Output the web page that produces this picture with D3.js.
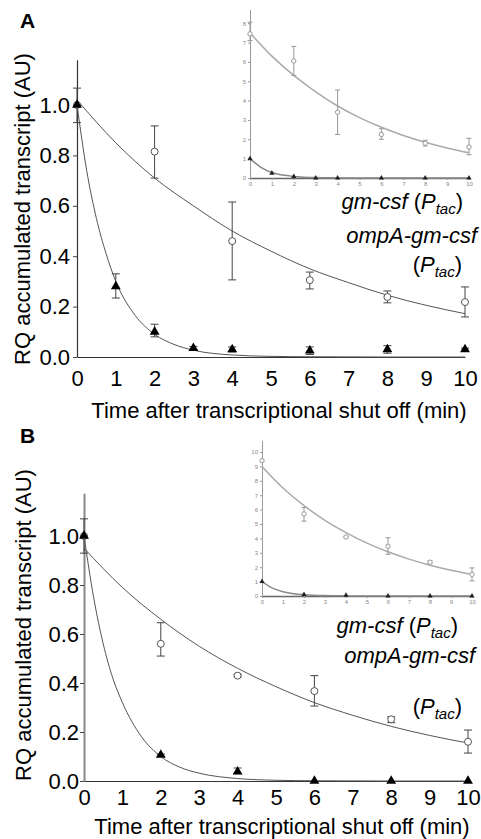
<!DOCTYPE html>
<html><head><meta charset="utf-8">
<script src="https://cdn.jsdelivr.net/npm/d3@7"></script>
<style>
body{margin:0;background:#fff}
svg{display:block}
text{font-family:"Liberation Sans",Arial,Helvetica,sans-serif}
</style>
</head><body>
<svg id="chart" width="481" height="839"></svg>
<script>
// ---------- shared ----------
const xTicks = [0,1,2,3,4,5,6,7,8,9,10];
const yTicksMain = [0,0.2,0.4,0.6,0.8,1.0];
const xTitle = "Time after transcriptional shut off (min)";
const yTitle = "RQ accumulated transcript (AU)";

// ---------- Panel A, main ----------
const aCircT  = [0,2,4,6,8,10];
const aCircY  = [1.0,0.815,0.46,0.305,0.238,0.218];
const aCircLo = [0.93,0.71,0.306,0.27,0.215,0.159];
const aCircHi = [1.067,0.917,0.615,0.337,0.262,0.278];
const aTriT   = [0,1,2,3,4,6,8,10];
const aTriY   = [1.0,0.28,0.10,0.035,0.03,0.025,0.03,0.03];
const aTriLo  = [1.0,0.234,0.08,0.03,0.02,0.01,0.015,0.025];
const aTriHi  = [1.0,0.33,0.13,0.042,0.04,0.04,0.045,0.035];
const aFitCircT = [0,1,2,3,4,5,6,7,8,9,10];
const aFitCircY = [1.02,0.85,0.71,0.60,0.50,0.42,0.35,0.295,0.245,0.205,0.172];
const aFitTriT  = [0,0.25,0.5,0.75,1,1.5,2,2.5,3,4,5,6,8,10];
const aFitTriY  = [1.0,0.74,0.55,0.41,0.30,0.165,0.09,0.05,0.027,0.008,0.0025,0.001,0,0];

// ---------- Panel A, inset ----------
const aInYTicks = [0,1,2,3,4,5,6,7,8];
const aInCircT  = [0,2,4,6,8,10];
const aInCircY  = [7.45,6.05,3.4,2.25,1.8,1.6];
const aInCircLo = [7.1,5.3,2.25,2.0,1.65,1.2];
const aInCircHi = [8.05,6.8,4.55,2.55,1.95,2.05];
const aInTriT   = [0,1,2,3,4,6,8,10];
const aInTriY   = [1.0,0.25,0.08,0,0,0,0,0];
const aInFitCircT = [0,1,2,3,4,5,6,7,8,9,10];
const aInFitCircY = [7.5,6.3,5.3,4.45,3.72,3.12,2.62,2.2,1.85,1.55,1.3];
const aInFitTriT  = [0,0.5,1,1.5,2,3,4,5,10];
const aInFitTriY  = [1.0,0.55,0.28,0.15,0.08,0.02,0.005,0,0];

// ---------- Panel B, main ----------
const bCircT  = [0,2,4,6,8,10];
const bCircY  = [1.0,0.56,0.43,0.367,0.252,0.16];
const bCircLo = [0.93,0.51,0.425,0.306,0.238,0.114];
const bCircHi = [1.07,0.646,0.435,0.43,0.262,0.208];
const bTriT   = [0,2,4,6,8,10];
const bTriY   = [1.0,0.106,0.038,0.0,0.0,0.0];
const bTriLo  = [1.0,0.10,0.03,0.0,0.0,0.0];
const bTriHi  = [1.0,0.11,0.053,0.0,0.0,0.0];
const bFitCircT = [0,1,2,3,4,5,6,7,8,9,10];
const bFitCircY = [0.95,0.79,0.66,0.55,0.46,0.385,0.32,0.268,0.223,0.186,0.155];
const bFitTriT  = [0,0.25,0.5,0.75,1,1.5,2,2.5,3,4,5,6,8,10];
const bFitTriY  = [1.0,0.75,0.56,0.42,0.32,0.18,0.10,0.056,0.032,0.01,0.003,0.001,0,0];

// ---------- Panel B, inset ----------
const bInYTicks = [0,1,2,3,4,5,6,7,8,9,10];
const bInCircT  = [0,2,4,6,8,10];
const bInCircY  = [9.4,5.7,4.1,3.45,2.35,1.5];
const bInCircLo = [9.4,5.2,4.05,2.9,2.25,1.05];
const bInCircHi = [9.4,6.15,4.15,4.05,2.45,1.95];
const bInTriT   = [0,2,4,6,8,10];
const bInTriY   = [1.0,0.1,0.05,0,0,0];
const bInFitCircT = [0,1,2,3,4,5,6,7,8,9,10];
const bInFitCircY = [9.0,7.5,6.28,5.25,4.4,3.67,3.07,2.56,2.14,1.79,1.5];
const bInFitTriT  = [0,0.5,1,1.5,2,3,4,5,10];
const bInFitTriY  = [1.0,0.55,0.3,0.16,0.09,0.027,0.008,0,0];

// ---------- legend text ----------
const legGm = "gm-csf";
const legOmp = "ompA-gm-csf";

const svg = d3.select("#chart");

function zip(t, y, lo, hi){ return t.map((d,i)=>({t:d,y:y[i],lo:lo?lo[i]:y[i],hi:hi?hi[i]:y[i]})); }

function drawMain(o){
  const g = svg.append("g");
  const x = d3.scaleLinear().domain([0,10]).range(o.xr);
  const y = d3.scaleLinear().domain([0,o.yTop]).range([o.y0, o.y0 - (o.y0-o.y1)*o.yTop]);
  const ya = g.append("g").attr("transform",`translate(${o.xr[0]},0)`)
    .call(d3.axisLeft(y).tickValues(yTicksMain).tickFormat(d3.format(".1f")).tickSize(4).tickSizeOuter(0).tickPadding(o.yPad));
  ya.select(".domain").attr("stroke",o.yAxisColor).attr("stroke-width",o.yAxisW);
  ya.selectAll(".tick line").attr("stroke","#444");
  ya.selectAll("text").attr("font-size",22).attr("fill","#000").attr("font-family","Liberation Sans, Arial, sans-serif");
  const xa = g.append("g").attr("transform",`translate(0,${o.y0})`)
    .call(d3.axisBottom(x).tickValues(xTicks).tickSize(0).tickSizeOuter(0).tickPadding(o.xPad));
  xa.select(".domain").attr("stroke","#333").attr("stroke-width",1.2);
  xa.selectAll("text").attr("font-size",22).attr("fill","#000").attr("font-family","Liberation Sans, Arial, sans-serif");
  g.append("text").attr("x",o.xTitleX).attr("y",o.xTitleY).attr("text-anchor","middle")
    .attr("font-size",22).text(xTitle);
  g.append("text").attr("transform",`translate(${o.yTitleX},${o.yTitleY}) rotate(-90)`)
    .attr("text-anchor","middle").attr("dominant-baseline","central").attr("font-size",22).text(yTitle);
  g.append("text").attr("x",o.lblX).attr("y",o.lblY).attr("font-size",21).attr("font-weight","bold").text(o.label);
  const line = d3.line().x(d=>x(d[0])).y(d=>y(d[1])).curve(d3.curveMonotoneX);
  g.append("path").attr("d",line(o.fitCircT.map((t,i)=>[t,o.fitCircY[i]]))).attr("fill","none").attr("stroke","#555").attr("stroke-width",1);
  g.append("path").attr("d",line(o.fitTriT.map((t,i)=>[t,o.fitTriY[i]]))).attr("fill","none").attr("stroke","#555").attr("stroke-width",1);
  function errs(data){
    const e = g.append("g").attr("stroke","#444").attr("stroke-width",1);
    data.filter(d=>d.hi>d.lo).forEach(d=>{
      e.append("line").attr("x1",x(d.t)).attr("x2",x(d.t)).attr("y1",y(d.lo)).attr("y2",y(d.hi));
      e.append("line").attr("x1",x(d.t)-4).attr("x2",x(d.t)+4).attr("y1",y(d.lo)).attr("y2",y(d.lo));
      e.append("line").attr("x1",x(d.t)-4).attr("x2",x(d.t)+4).attr("y1",y(d.hi)).attr("y2",y(d.hi));
    });
  }
  const circ = zip(o.circT,o.circY,o.circLo,o.circHi);
  const tri = zip(o.triT,o.triY,o.triLo,o.triHi);
  errs(circ); errs(tri);
  g.append("g").selectAll("circle").data(circ).join("circle")
    .attr("cx",d=>x(d.t)).attr("cy",d=>y(d.y)).attr("r",3.5)
    .attr("fill","#fff").attr("stroke","#555").attr("stroke-width",1);
  g.append("g").selectAll("path").data(tri).join("path")
    .attr("transform",d=>`translate(${x(d.t)},${y(d.y)})`)
    .attr("d",d3.symbol(d3.symbolTriangle,42)).attr("fill","#000");
  return {x,y};
}

function drawInset(o){
  const g = svg.append("g");
  const x = d3.scaleLinear().domain([0,10]).range(o.xr);
  const y = d3.scaleLinear().domain([0,o.yTop]).range([o.y0, o.y0 - o.yUnit*o.yTop]);
  const col = "#9a9a9a";
  const ya = g.append("g").attr("transform",`translate(${o.xr[0]},0)`)
    .call(d3.axisLeft(y).tickValues(o.yTicks).tickSize(2).tickSizeOuter(0).tickPadding(2));
  ya.select(".domain").attr("stroke",col).attr("stroke-width",1);
  ya.selectAll(".tick line").attr("stroke",col);
  ya.selectAll("text").attr("font-size",6).attr("fill","#888");
  const xa = g.append("g").attr("transform",`translate(0,${o.y0})`)
    .call(d3.axisBottom(x).tickValues(xTicks).tickSize(2).tickSizeOuter(0).tickPadding(2));
  xa.select(".domain").attr("stroke","#666").attr("stroke-width",1.5);
  xa.selectAll(".tick line").attr("stroke",col);
  xa.selectAll("text").attr("font-size",6).attr("fill","#888");
  const line = d3.line().x(d=>x(d[0])).y(d=>y(d[1])).curve(d3.curveMonotoneX);
  g.append("path").attr("d",line(o.fitCircT.map((t,i)=>[t,o.fitCircY[i]]))).attr("fill","none").attr("stroke","#aaa").attr("stroke-width",1.5);
  g.append("path").attr("d",line(o.fitTriT.map((t,i)=>[t,o.fitTriY[i]]))).attr("fill","none").attr("stroke","#888").attr("stroke-width",1.5);
  const circ = zip(o.circT,o.circY,o.circLo,o.circHi);
  const e = g.append("g").attr("stroke","#999").attr("stroke-width",1);
  circ.filter(d=>d.hi>d.lo).forEach(d=>{
    e.append("line").attr("x1",x(d.t)).attr("x2",x(d.t)).attr("y1",y(d.lo)).attr("y2",y(d.hi));
    e.append("line").attr("x1",x(d.t)-2.5).attr("x2",x(d.t)+2.5).attr("y1",y(d.lo)).attr("y2",y(d.lo));
    e.append("line").attr("x1",x(d.t)-2.5).attr("x2",x(d.t)+2.5).attr("y1",y(d.hi)).attr("y2",y(d.hi));
  });
  g.append("g").selectAll("circle").data(circ).join("circle")
    .attr("cx",d=>x(d.t)).attr("cy",d=>y(d.y)).attr("r",2.2)
    .attr("fill","#fff").attr("stroke","#999").attr("stroke-width",1);
  g.append("g").selectAll("path").data(zip(o.triT,o.triY)).join("path")
    .attr("transform",d=>`translate(${x(d.t)},${y(d.y)})`)
    .attr("d",d3.symbol(d3.symbolTriangle,12)).attr("fill","#222");
}

function ptac(t){
  t.append("tspan").attr("font-style","normal").text("(");
  t.append("tspan").text("P");
  t.append("tspan").attr("font-size",15).attr("dy",5).text("tac");
  t.append("tspan").attr("font-style","normal").attr("dy",-5).text(")");
}

function drawLegend(o){
  const g = svg.append("g").attr("font-size",22).attr("font-style","italic").attr("text-anchor","end");
  const t1 = g.append("text").attr("x",o.x1).attr("y",o.y1);
  t1.append("tspan").text(legGm + " ");
  ptac(t1);
  g.append("text").attr("x",o.x2).attr("y",o.y2).text(legOmp);
  const t3 = g.append("text").attr("x",o.x3).attr("y",o.y3);
  ptac(t3);
}

// Panel A
drawInset({xr:[250,469], y0:178, yUnit:19.35, yTop:8.7, yTicks:aInYTicks,
  circT:aInCircT, circY:aInCircY, circLo:aInCircLo, circHi:aInCircHi,
  triT:aInTriT, triY:aInTriY,
  fitCircT:aInFitCircT, fitCircY:aInFitCircY, fitTriT:aInFitTriT, fitTriY:aInFitTriY});
drawMain({label:"A", lblX:20, lblY:28, xr:[77,465], y0:357, y1:105, yTop:1.18,
  yPad:3, xPad:13, yAxisColor:"#333", yAxisW:1.2,
  xTitleX:279, xTitleY:418, yTitleX:22, yTitleY:209,
  circT:aCircT, circY:aCircY, circLo:aCircLo, circHi:aCircHi,
  triT:aTriT, triY:aTriY, triLo:aTriLo, triHi:aTriHi,
  fitCircT:aFitCircT, fitCircY:aFitCircY, fitTriT:aFitTriT, fitTriY:aFitTriY});
drawLegend({x1:463,y1:209, x2:477,y2:243, x3:462,y3:272});

// Panel B
drawInset({xr:[262,472], y0:596, yUnit:14.4, yTop:10.8, yTicks:bInYTicks,
  circT:bInCircT, circY:bInCircY, circLo:bInCircLo, circHi:bInCircHi,
  triT:bInTriT, triY:bInTriY,
  fitCircT:bInFitCircT, fitCircY:bInFitCircY, fitTriT:bInFitTriT, fitTriY:bInFitTriY});
drawMain({label:"B", lblX:20, lblY:443, xr:[84,468], y0:781, y1:536, yTop:1.175,
  yPad:1, xPad:8, yAxisColor:"#888", yAxisW:2,
  xTitleX:282, xTitleY:834, yTitleX:23, yTitleY:625,
  circT:bCircT, circY:bCircY, circLo:bCircLo, circHi:bCircHi,
  triT:bTriT, triY:bTriY, triLo:bTriLo, triHi:bTriHi,
  fitCircT:bFitCircT, fitCircY:bFitCircY, fitTriT:bFitTriT, fitTriY:bFitTriY});
drawLegend({x1:458,y1:633, x2:475,y2:663, x3:462,y3:714});
</script>
</body></html>
